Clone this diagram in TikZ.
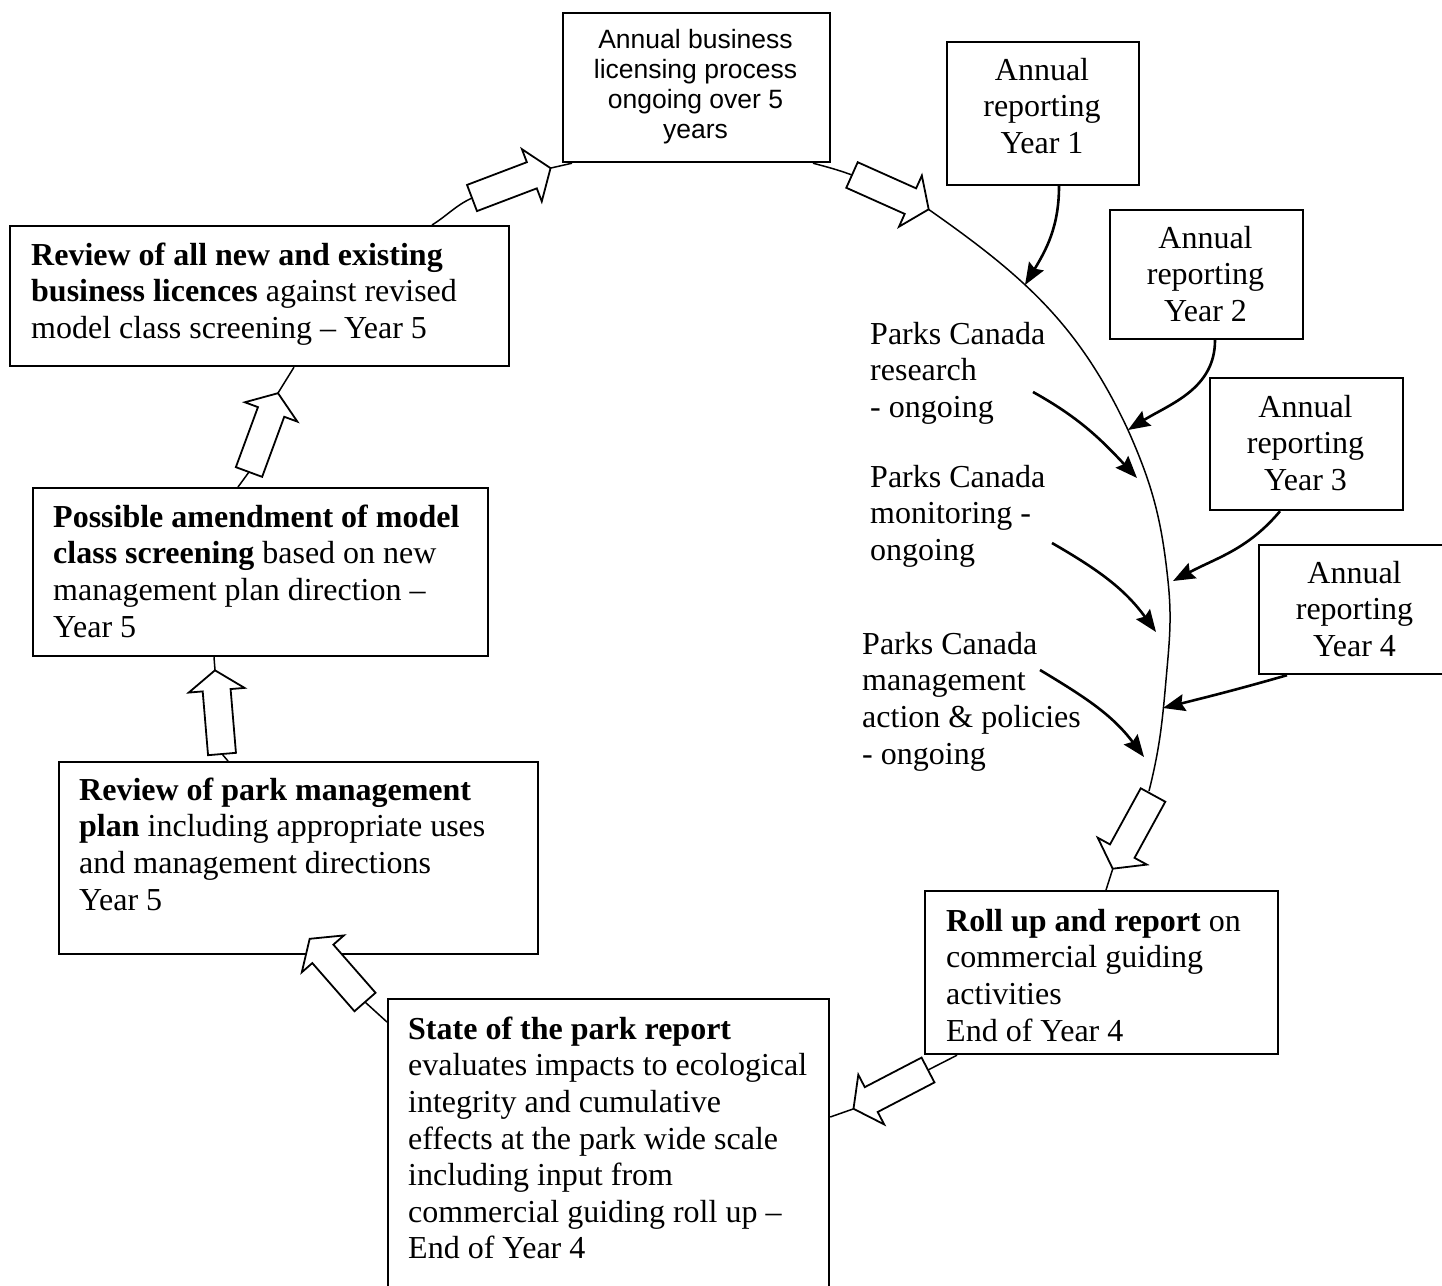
\documentclass[tikz,border=0pt]{standalone}
\usepackage{fontspec}
\setmainfont{Liberation Serif}
\newfontfamily\arialf{Liberation Sans}
\usetikzlibrary{arrows.meta}
\begin{document}
\begin{tikzpicture}[x=1pt,y=-1pt,
  box/.style={draw,line width=2.2pt,fill=white,inner sep=0pt,anchor=north west},
  txt/.style={inner sep=0pt,anchor=north west,align=left,font=\fontsize{32}{36.6}\selectfont},
  ctxt/.style={inner sep=0pt,anchor=north,align=center,font=\fontsize{32}{36.6}\selectfont},
  sans/.style={inner sep=0pt,anchor=north,align=center,font=\arialf\fontsize{26.5}{30}\selectfont},
  arcline/.style={line width=1.5pt},
  feed/.style={line width=2.6pt,-{Stealth[length=22pt,width=17pt,inset=3pt]}},
  blockarrow/.pic={\draw[line width=1.8pt,fill=white,line join=miter]
     (0,-14)--(64,-14)--(64,-28)--(84,0)--(64,28)--(64,14)--(0,14)--cycle;}
]
\useasboundingbox (0,0) rectangle (1442,1285);

% ---------- boxes ----------
\node[box,minimum width=267pt,minimum height=149pt] (annual) at (562,12) {};
\node[box,minimum width=192pt,minimum height=143pt] (y1) at (946,41) {};
\node[box,minimum width=193pt,minimum height=129pt] (y2) at (1109,209) {};
\node[box,minimum width=193pt,minimum height=132pt] (y3) at (1209,377) {};
\node[box,minimum width=193pt,minimum height=129pt] (y4) at (1258,544) {};
\node[box,minimum width=499pt,minimum height=140pt] (revlic) at (9,225) {};
\node[box,minimum width=455pt,minimum height=168pt] (amend) at (32,487) {};
\node[box,minimum width=479pt,minimum height=192pt] (revpark) at (58,761) {};
\node[box,minimum width=441pt,minimum height=292pt] (state) at (387,998) {};
\node[box,minimum width=353pt,minimum height=163pt] (rollup) at (924,890) {};

% ---------- cycle connectors ----------
\coordinate (a1t) at (472,198);  \coordinate (a1h) at (551,168);
\coordinate (a2t) at (852,175);  \coordinate (a2h) at (928,209);
\coordinate (a3t) at (249,472);  \coordinate (a3h) at (278,393);
\coordinate (a4t) at (222,754);  \coordinate (a4h) at (215,670);
\coordinate (a5t) at (365,1002); \coordinate (a5h) at (309,938);
\coordinate (a6t) at (1149,791); \coordinate (a6h) at (1113,868);
\coordinate (a7t) at (928,1070); \coordinate (a7h) at (853,1109);
\coordinate (k1) at (1025,285);
\coordinate (k2) at (1128,430);
\coordinate (k3) at (1168,581);
\coordinate (k4) at (1166,680);

\draw[arcline] (432,0 |- revlic.north) to[out=32,in=205] (a1t);
\draw[arcline] (a1h) -- (572,0 |- annual.south);
\draw[arcline] (813,0 |- annual.south) to[out=-15,in=160] (a2t);
\draw[arcline] (a2h) to[out=-35,in=115] (k2) to[out=-66,in=96] (k3)
   to[out=-84,in=85] (k4) to[out=-95,in=76] (a6t);
\draw[arcline] (a6h) -- (1106,0 |- rollup.north);
\draw[arcline] (957,0 |- rollup.south) -- (a7t);
\draw[arcline] (a7h) -- (state.east |- 0,1117);
\draw[arcline] (state.west |- 0,1022) -- (a5t);
\draw[arcline] (228,0 |- revpark.north) -- (a4t);
\draw[arcline] (a4h) -- (214,0 |- amend.south);
\draw[arcline] (238,0 |- amend.north) -- (a3t);
\draw[arcline] (a3h) -- (294,0 |- revlic.south);

% ---------- texts ----------
\node[sans] (annualt) at (695.5,27) {\strut Annual business\\licensing process\\ongoing over 5\\years};
\node[ctxt] (y1t) at (1042,54.4) {\strut Annual\\reporting\\Year 1};
\node[ctxt] (y2t) at (1205.5,222.4) {\strut Annual\\reporting\\Year 2};
\node[ctxt] (y3t) at (1305.5,391.4) {\strut Annual\\reporting\\Year 3};
\node[ctxt] (y4t) at (1354.5,557.4) {\strut Annual\\reporting\\Year 4};
\node[txt] (revlict) at (31,239.4) {\strut\textbf{Review of all new and existing}\\\textbf{business licences} against revised\\model class screening – Year 5};
\node[txt] (amendt) at (53,501.4) {\strut\textbf{Possible amendment of model}\\\textbf{class screening} based on new\\management plan direction –\\Year 5};
\node[txt] (revparkt) at (79,774.4) {\strut\textbf{Review of park management}\\\textbf{plan} including appropriate uses\\and management directions\\Year 5};
\node[txt] (statet) at (408,1013.4) {\strut\textbf{State of the park report}\\evaluates impacts to ecological\\integrity and cumulative\\effects at the park wide scale\\including input from\\commercial guiding roll up –\\End of Year 4};
\node[txt] (rollupt) at (946,905.4) {\strut\textbf{Roll up and report} on\\commercial guiding\\activities\\End of Year 4};
\node[txt] (p1) at (870,318.4) {\strut Parks Canada\\research\\- ongoing};
\node[txt] (p2) at (870,461.4) {\strut Parks Canada\\monitoring -\\ongoing};
\node[txt] (p3) at (862,628.4) {\strut Parks Canada\\management\\action \& policies\\- ongoing};

% ---------- input arrows ----------
\coordinate (p1s) at (1033,392); \coordinate (p1e) at (1137,478);
\coordinate (p2s) at (1052,543); \coordinate (p2e) at (1156,632);
\coordinate (p3s) at (1040,670); \coordinate (p3e) at (1144,757);
\coordinate (y3e) at (1173,581);
\coordinate (y4e) at (1163,708);
\draw[feed] (1059,0 |- y1.south) to[out=-90,in=59] (k1);
\draw[feed] (1215,0 |- y2.south) to[out=-90,in=32] (k2);
\draw[feed] (1280,0 |- y3.south) to[out=230,in=28] (y3e);
\draw[feed] (1287,0 |- y4.south) to[out=196,in=14] (y4e);
\draw[feed] (p1s) to[out=-29,in=133] (p1e);
\draw[feed] (p2s) to[out=-30,in=126] (p2e);
\draw[feed] (p3s) to[out=-31,in=127] (p3e);

% ---------- block arrows ----------
\pic[rotate=20.8] at (a1t) {blockarrow};
\pic[rotate=-24.1] at (a2t) {blockarrow};
\pic[rotate=69.8] at (a3t) {blockarrow};
\pic[rotate=94.8] at (a4t) {blockarrow};
\pic[rotate=131.2] at (a5t) {blockarrow};
\pic[rotate=-118.7] at (1153,795) {blockarrow};
\pic[rotate=207.5] at (a7t) {blockarrow};
\end{tikzpicture}
\end{document}
